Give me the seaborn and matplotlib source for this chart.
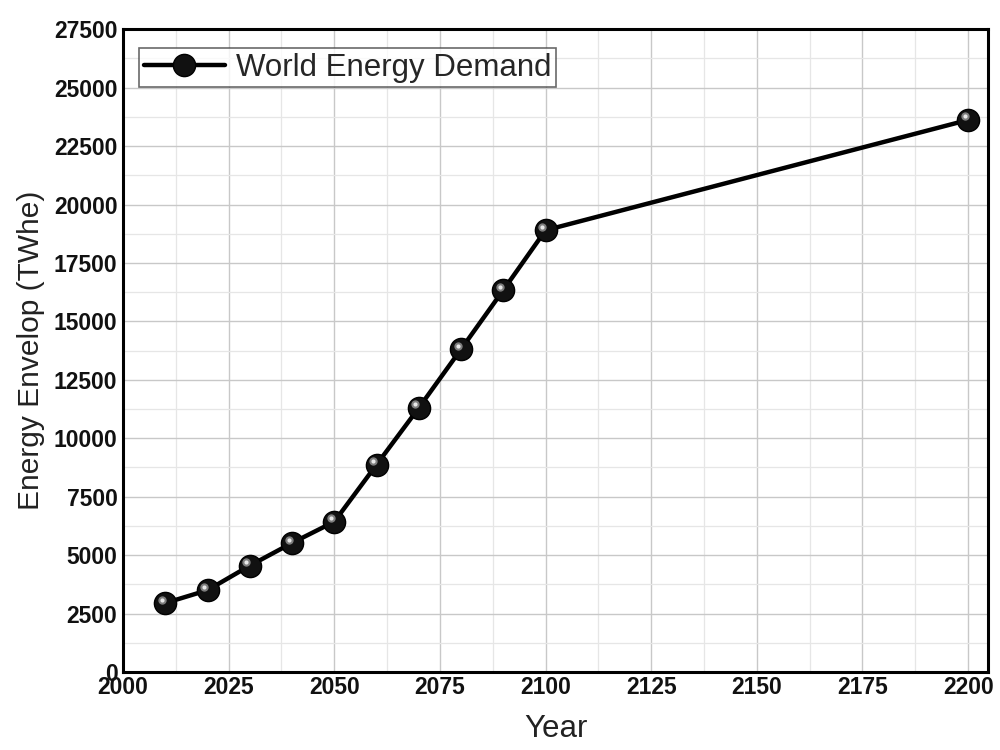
import matplotlib
matplotlib.use("Agg")
import matplotlib.pyplot as plt
import matplotlib.transforms as mtransforms
from matplotlib.ticker import MultipleLocator
from matplotlib.lines import Line2D
import seaborn as sns
import pandas as pd

years = [2010, 2020, 2030, 2040, 2050, 2060, 2070, 2080, 2090, 2100, 2200]
demand = [2950, 3500, 4550, 5520, 6430, 8870, 11300, 13810, 16340, 18900, 23620]
series_name = "World Energy Demand"
x_label = "Year"
y_label = "Energy Envelop (TWhe)"

df = pd.DataFrame({"Year": years, "Demand": demand})

sns.set_theme(style="white")
plt.rcParams['font.family'] = ['Liberation Sans', 'DejaVu Sans']

fig = plt.figure(figsize=(10, 7.5), dpi=100)
ax = fig.add_axes([0.123, 0.104, 0.865, 0.857])

ax.xaxis.set_major_locator(MultipleLocator(25))
ax.xaxis.set_minor_locator(MultipleLocator(12.5))
ax.yaxis.set_major_locator(MultipleLocator(2500))
ax.yaxis.set_minor_locator(MultipleLocator(1250))
ax.grid(which="major", color="#c8c8c8", linewidth=1.0)
ax.grid(which="minor", color="#e6e6e6", linewidth=0.9)
ax.set_axisbelow(True)

sns.lineplot(data=df, x="Year", y="Demand", ax=ax, color="black", linewidth=3.2,
             marker="o", markersize=16, markerfacecolor="#111111",
             markeredgecolor="black", markeredgewidth=1, label=series_name,
             legend=False)

# highlight on the spheres
off = mtransforms.ScaledTranslation(-2.5/72, 2.5/72, fig.dpi_scale_trans)
ax.plot(df["Year"], df["Demand"], linestyle="none", marker="o", markersize=6,
        markerfacecolor="#8a8a8a", markeredgewidth=0, alpha=0.9,
        transform=ax.transData + off)
ax.plot(df["Year"], df["Demand"], linestyle="none", marker="o", markersize=3,
        markerfacecolor="#e8e8e8", markeredgewidth=0,
        transform=ax.transData + off)

ax.set_xlim(2000, 2204.7)
ax.set_ylim(0, 27500)

for sp in ax.spines.values():
    sp.set_color("black")
    sp.set_linewidth(2.2)

ax.tick_params(axis="both", which="major", labelsize=16.5, length=0, pad=4)
ax.tick_params(axis="x", which="major", pad=3)
ax.tick_params(axis="both", which="minor", length=0)
for lbl in ax.get_xticklabels() + ax.get_yticklabels():
    lbl.set_fontweight("bold")
    lbl.set_color("#111111")

ax.set_xlabel(x_label, fontsize=22.5, color="#222222", labelpad=11)
ax.set_ylabel(y_label, fontsize=21.5, color="#222222", labelpad=6)

h = Line2D([], [], color="black", linewidth=3.2, marker="o", markersize=16,
           markerfacecolor="#111111", markeredgecolor="black")
leg = ax.legend([h], [series_name], loc="upper left", fontsize=22.5,
                frameon=True, fancybox=False, edgecolor="#444444",
                borderpad=0.15, handlelength=2.6, handletextpad=0.35,
                borderaxespad=0, bbox_to_anchor=(0.0185, 0.971))
leg.get_frame().set_linewidth(1.2)

fig.savefig("out.png", dpi=100)
